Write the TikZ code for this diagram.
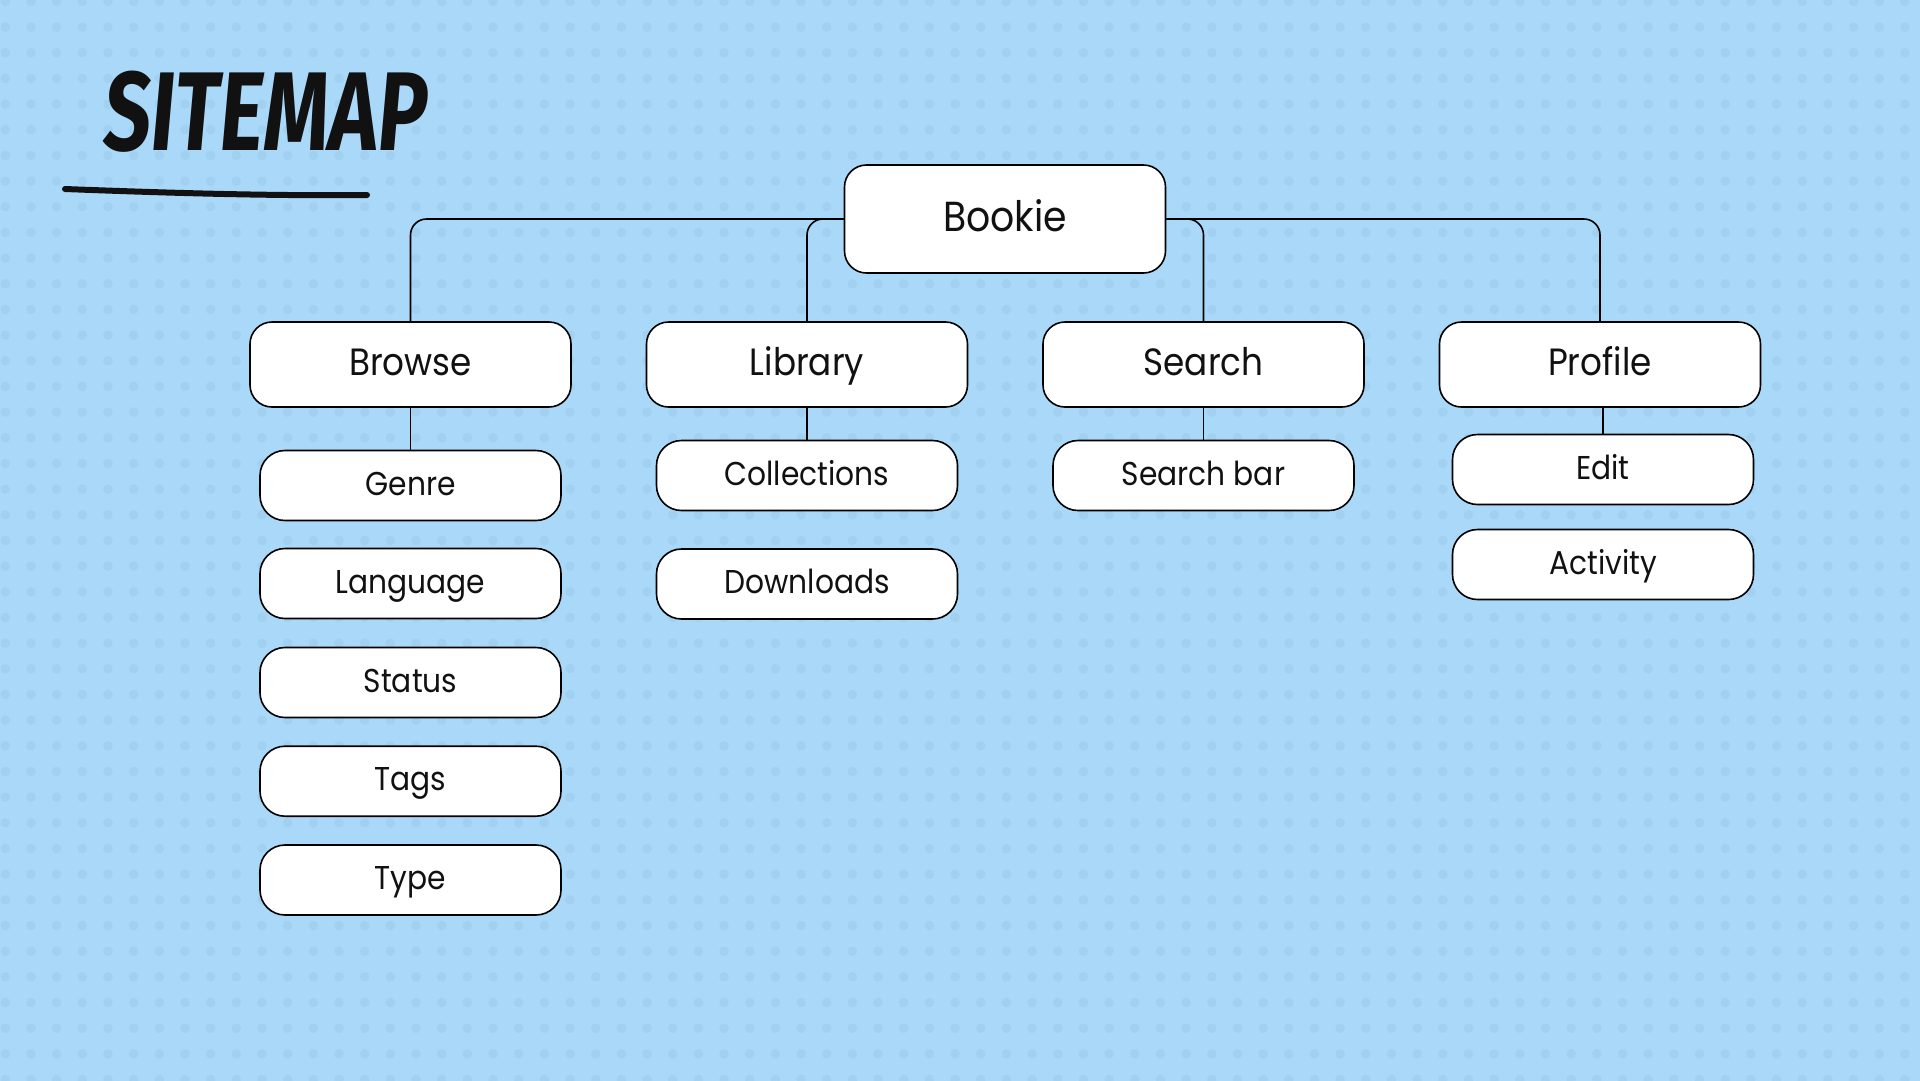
\documentclass[tikz,border=0pt]{standalone}
\usepackage{fontspec}
\usepackage{graphicx}
\setmainfont{Poppins}[FakeStretch=0.9]
\newfontfamily\titlefont{Fira Sans}[FakeSlant=0.12]
\definecolor{bgblue}{RGB}{170,216,248}
\definecolor{dotblue}{RGB}{162,208,240}
\definecolor{ink}{RGB}{17,17,17}
\tikzset{
  box/.style={draw=black, line width=1.6pt, fill=white, rounded corners=22pt, inner sep=0pt, align=center, text=ink},
  topbox/.style={box, minimum width=321pt, minimum height=108pt, text height=25.5pt, text depth=0pt, font=\fontsize{42}{48}\selectfont},
  midbox/.style={box, minimum width=321pt, minimum height=85pt, text height=22.5pt, text depth=0pt, font=\fontsize{38}{44}\selectfont},
  leafbox/.style={box, minimum width=301pt, minimum height=70pt, rounded corners=25pt, text height=19pt, text depth=0pt, font=\fontsize{33}{38}\selectfont},
  link/.style={draw=black, line width=1.6pt, rounded corners=16pt},
  stroke/.style={draw=ink, line width=6pt, line cap=round}
}
\begin{document}
\begin{tikzpicture}[x=1pt, y=-1pt]
  \useasboundingbox (0,0) rectangle (1920,1080);
  \fill[bgblue] (-5,-5) rectangle (1925,1085);
  \foreach \i in {0,...,74} {
    \foreach \j in {0,...,42} {
      \fill[dotblue] (5.3+25.67*\i, 1.4+25.67*\j) circle (4.8pt);
    }
  }
  % title
  \node[anchor=base west, inner sep=0pt, text=ink] (title) at (101,150)
    {\scalebox{0.74}[1]{\fontsize{112}{112}\selectfont\titlefont\bfseries SITEMAP}};
  \coordinate (ulA) at (65,189);
  \coordinate (ulB) at (367,195);
  \draw[stroke] (ulA) .. controls (170,193) and (270,196) .. (ulB);

  % nodes
  \node[topbox] (bookie) at (1005,219) {Bookie};
  \node[midbox] (browse) at (410.5,364.5) {Browse};
  \node[midbox] (library) at (807,364.5) {Library};
  \node[midbox] (search) at (1203.5,364.5) {Search};
  \node[midbox] (profile) at (1600,364.5) {Profile};

  \node[leafbox] (genre) at (410.5,485.5) {Genre};
  \node[leafbox] (language) at (410.5,583.5) {Language};
  \node[leafbox] (status) at (410.5,682.5) {Status};
  \node[leafbox] (tags) at (410.5,781.2) {Tags};
  \node[leafbox] (type) at (410.5,880) {Type};

  \node[leafbox] (collections) at (807,475.5) {Collections};
  \node[leafbox] (downloads) at (807,584) {Downloads};

  \node[leafbox] (searchbar) at (1203.5,475.5) {Search bar};

  \node[leafbox] (edit) at (1603,469.5) {Edit};
  \node[leafbox] (activity) at (1603,564.5) {Activity};

  % connectors
  \draw[link] (bookie.west) -| (browse.north);
  \draw[link] (bookie.west) -| (library.north);
  \draw[link] (bookie.east) -| (search.north);
  \draw[link] (bookie.east) -| (profile.north);
  \draw[link] (browse.south) -- (genre.north);
  \draw[link] (library.south) -- (collections.north);
  \draw[link] (search.south) -- (searchbar.north);
  \draw[link] (edit.north |- profile.south) -- (edit.north);
\end{tikzpicture}
\end{document}
